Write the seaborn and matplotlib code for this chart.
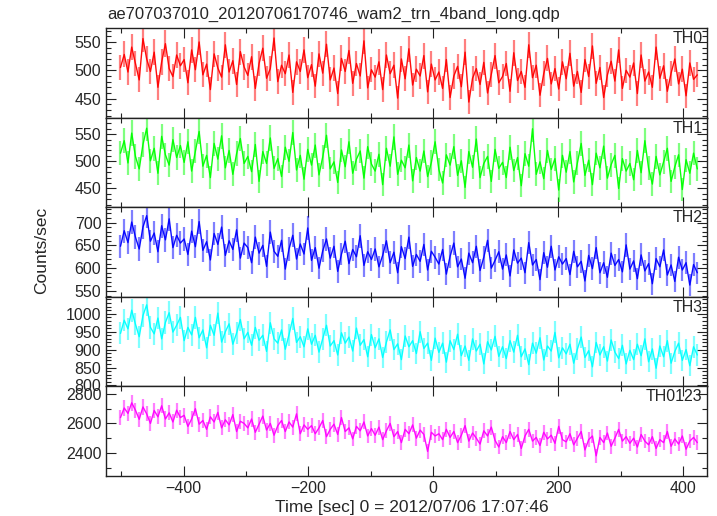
import numpy as np
import pandas as pd
import matplotlib
matplotlib.use("Agg")
import matplotlib.pyplot as plt
from matplotlib.ticker import MultipleLocator, FixedLocator
import seaborn as sns

# ---- data (~6 s bins) ----
t_start, t_step = -501, 6

th0 = [505, 528, 497, 541, 512, 483, 556, 520, 498, 532, 470, 515, 547, 503, 489, 527, 508,
       519, 478, 536, 501, 550, 492, 511, 466, 529, 504, 488, 545, 497, 517, 475, 533, 506,
       491, 524, 468, 512, 539, 486, 503, 557, 480, 509, 494, 527, 461, 515, 498, 536, 487,
       510, 472, 529, 495, 546, 483, 504, 459, 521, 498, 535, 477, 512, 490, 552, 469, 501,
       488, 515, 466, 527, 494, 509, 451, 520, 485, 538, 474, 502, 490, 526, 462, 511, 483,
       497, 468, 519, 452, 490, 507, 471, 532, 444, 486, 503, 475, 514, 460, 493, 526, 478,
       489, 512, 463, 531, 482, 498, 470, 545, 487, 509, 456, 494, 521, 476, 503, 467, 515,
       485, 530, 472, 498, 461, 519, 489, 543, 477, 505, 452, 492, 516, 481, 536, 468, 500,
       488, 513, 459, 527, 481, 497, 470, 541, 486, 508, 463, 495, 520, 476, 502, 455, 513, 484, 492]

th1 = [515, 538, 497, 552, 509, 486, 531, 561, 501, 524, 478, 546, 512, 493, 540, 507, 529,
       498, 536, 482, 519, 555, 491, 511, 470, 533, 504, 547, 488, 520, 476, 514, 542, 496,
       509, 481, 531, 463, 518, 496, 543, 487, 505, 472, 526, 500, 553, 484, 511, 467, 522,
       493, 530, 475, 508, 548, 486, 499, 461, 521, 490, 536, 478, 504, 519, 469, 527, 495,
       482, 513, 457, 524, 491, 545, 476, 502, 488, 530, 464, 507, 482, 519, 472, 498, 536,
       485, 460, 512, 493, 527, 474, 501, 452, 518, 489, 541, 470, 496, 509, 463, 522, 487,
       498, 470, 526, 483, 507, 455, 514, 491, 560, 476, 499, 468, 520, 485, 505, 447, 511,
       480, 518, 462, 497, 533, 474, 502, 457, 515, 488, 528, 469, 494, 511, 450, 505, 482,
       496, 466, 520, 479, 538, 487, 458, 509, 475, 499, 524, 463, 490, 512, 448, 503, 478, 515, 486]

th2 = [648, 682, 656, 701, 668, 642, 690, 715, 659, 677, 636, 693, 662, 708, 645, 672, 655,
       664, 630, 681, 647, 702, 639, 658, 618, 676, 652, 690, 628, 660, 641, 684, 622, 655,
       645, 612, 668, 633, 650, 604, 679, 637, 626, 661, 598, 642, 672, 620, 653, 631, 688,
       617, 645, 600, 638, 664, 622, 648, 593, 631, 659, 610, 641, 625, 671, 606, 636, 619,
       642, 603, 628, 660, 612, 635, 590, 647, 621, 668, 604, 630, 615, 652, 596, 637, 624,
       609, 641, 587, 626, 655, 603, 620, 578, 633, 612, 648, 595, 624, 661, 600, 617, 636,
       598, 629, 583, 640, 611, 622, 590, 656, 607, 619, 575, 634, 602, 648, 596, 625, 609,
       621, 586, 637, 603, 615, 572, 628, 599, 645, 590, 612, 580, 633, 606, 619, 592, 651,
       598, 616, 577, 629, 594, 610, 566, 621, 603, 640, 585, 607, 571, 624, 596, 612, 563, 608, 590]

th3 = [945, 982, 958, 1010, 971, 936, 995, 1025, 962, 944, 988, 930, 976, 1003, 949, 968, 990,
       925, 962, 941, 990, 933, 955, 905, 968, 940, 1002, 921, 950, 972, 915, 946, 984, 930,
       948, 912, 962, 926, 940, 895, 975, 930, 918, 955, 901, 942, 987, 920, 936, 908, 958,
       915, 940, 893, 930, 968, 910, 925, 885, 947, 918, 935, 896, 960, 912, 928, 880, 942,
       905, 930, 878, 921, 955, 900, 916, 872, 938, 908, 925, 889, 950, 903, 918, 870, 932,
       892, 918, 865, 925, 900, 943, 883, 910, 870, 930, 896, 915, 860, 922, 899, 937, 881,
       908, 875, 925, 893, 940, 880, 902, 858, 918, 890, 933, 871, 910, 896, 948, 877, 905,
       888, 915, 862, 902, 935, 878, 897, 852, 920, 885, 908, 868, 927, 893, 875, 912, 860,
       898, 872, 915, 883, 930, 866, 902, 848, 910, 880, 925, 862, 895, 918, 870, 900, 855, 908, 885]

th0123 = [2640, 2705, 2668, 2740, 2690, 2628, 2712, 2665, 2600, 2688, 2645, 2720, 2630, 2672, 2610, 2690, 2640,
          2655, 2580, 2630, 2700, 2595, 2620, 2560, 2645, 2610, 2675, 2570, 2625, 2590, 2660, 2545, 2615, 2600,
          2570, 2630, 2540, 2595, 2650, 2555, 2600, 2520, 2585, 2620, 2545, 2610, 2575, 2665, 2530, 2590, 2560,
          2585, 2530, 2570, 2620, 2510, 2560, 2595, 2525, 2640, 2545, 2570, 2495, 2580, 2550, 2610, 2515, 2565,
          2520, 2575, 2490, 2550, 2600, 2510, 2545, 2470, 2560, 2530, 2590, 2500, 2555, 2525, 2410, 2540, 2515,
          2530, 2490, 2560, 2505, 2545, 2470, 2520, 2585, 2480, 2535, 2500, 2460, 2550, 2515, 2575, 2485, 2440,
          2510, 2470, 2545, 2490, 2525, 2430, 2515, 2560, 2480, 2505, 2450, 2540, 2495, 2520, 2465, 2580, 2490,
          2475, 2530, 2455, 2500, 2545, 2420, 2490, 2515, 2380, 2505, 2470, 2535, 2445, 2500, 2560, 2480, 2510,
          2465, 2500, 2440, 2525, 2480, 2455, 2510, 2430, 2490, 2470, 2545, 2445, 2495, 2460, 2515, 2425, 2480, 2505, 2470]

bands = ["TH0", "TH1", "TH2", "TH3", "TH0123"]
series = [th0, th1, th2, th3, th0123]
colors = ["#ff0000", "#00ff00", "#0000ff", "#00ffff", "#ff00ff"]
ylims = [(416, 574), (415, 580), (537, 733), (797, 1047), (2243, 2851)]
yticks = [[450, 500, 550], [450, 500, 550], [550, 600, 650, 700],
          [800, 850, 900, 950, 1000], [2400, 2600, 2800]]
yminor = [10, 10, 10, 10, 100]
title = "ae707037010_20120706170746_wam2_trn_4band_long.qdp"
xlabel = "Time [sec] 0 = 2012/07/06 17:07:46"
ylabel = "Counts/sec"

# ---- plotting ----
sns.set_style("ticks")
plt.rcParams['font.family'] = ['Liberation Sans', 'DejaVu Sans']
plt.rcParams['font.size'] = 11

fig, axes = plt.subplots(5, 1, figsize=(7.17, 5.16), dpi=100, sharex=True)
fig.subplots_adjust(left=0.148, right=0.9856, top=0.945, bottom=0.0775, hspace=0)

for ax, name, vals, col, yl, yt, ym in zip(axes, bands, series, colors, ylims, yticks, yminor):
    vals = np.asarray(vals, dtype=float)
    t = t_start + t_step * np.arange(len(vals))
    df = pd.DataFrame({"time": t, "rate": vals})
    err = np.sqrt(vals)
    ax.vlines(df["time"], df["rate"] - err, df["rate"] + err, color=col, alpha=0.5, lw=1.6)
    sns.lineplot(data=df, x="time", y="rate", ax=ax, color=col, lw=1.0, alpha=0.95)
    ax.set_xlim(-524, 438)
    ax.set_ylim(*yl)
    ax.yaxis.set_major_locator(FixedLocator(yt))
    ax.yaxis.set_minor_locator(MultipleLocator(ym))
    ax.xaxis.set_major_locator(MultipleLocator(200))
    ax.xaxis.set_minor_locator(MultipleLocator(100))
    ax.set_xlabel("")
    ax.set_ylabel("")
    ax.tick_params(which="both", direction="in", top=True, right=True, labelsize=11.5,
                   color="#222222", width=0.8)
    ax.tick_params(which="major", length=7)
    ax.tick_params(which="minor", length=3.5)
    for s in ax.spines.values():
        s.set_linewidth(1.0)
        s.set_color("#222222")
    ax.text(0.993, 0.885, name, transform=ax.transAxes, ha="right", va="center", fontsize=11.5)

fig.text(0.149, 0.973, title, ha="left", va="center", fontsize=12)
fig.text(0.575, 0.017, xlabel, ha="center", va="center", fontsize=12.5)
fig.text(0.058, 0.515, ylabel, ha="center", va="center", rotation=90, fontsize=12.5)

fig.savefig("out.png", dpi=100)
